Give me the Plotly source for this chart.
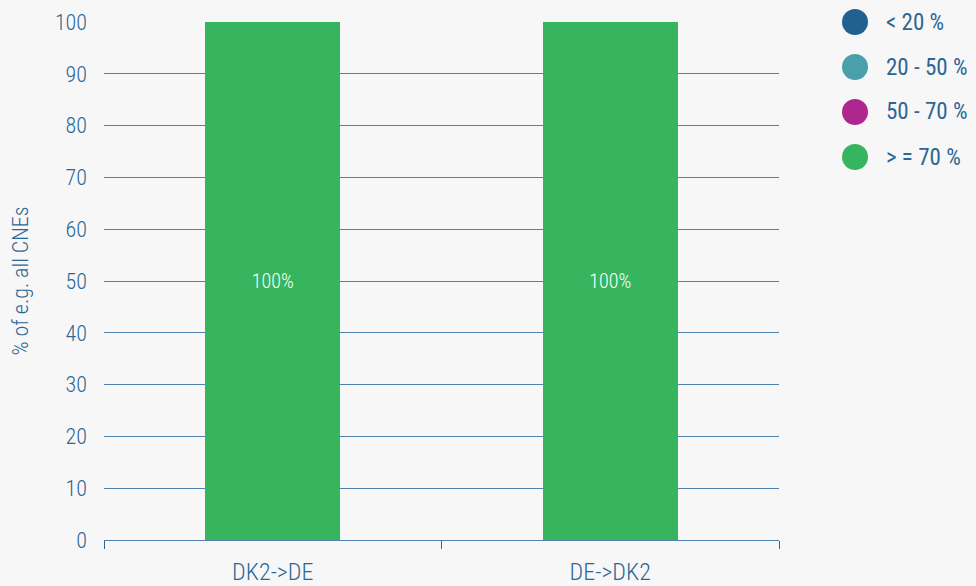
import plotly.graph_objects as go

categories = ["DK2->DE", "DE->DK2"]
series_names = ["< 20 %", "20 - 50 %", "50 - 70 %", "> = 70 %"]
series_values = [
    [0, 0],
    [0, 0],
    [0, 0],
    [100, 100],
]
series_colors = ["#22608f", "#4aa0aa", "#b0268f", "#36b55e"]
y_ticks = list(range(0, 101, 10))

FONT = "Roboto Condensed, Liberation Sans Narrow, Roboto, sans-serif"
TXT = "#2d6695"
GRID = "#4f82ae"

T, B = 22, 46
PH = 586 - T - B
PW = 976 - 104 - 197

fig = go.Figure()
for name, vals, col in zip(series_names, series_values, series_colors):
    fig.add_trace(go.Bar(
        x=categories, y=vals, name=name, marker_color=col,
        marker_line_width=0, showlegend=False,
        text=[f"{v}%" if v > 0 else "" for v in vals],
        textposition="inside", insidetextanchor="middle",
        textfont=dict(color="white", size=20, family=FONT, weight=300),
        width=0.4,
    ))

# custom legend with large circles
for i, (name, col) in enumerate(zip(series_names, series_colors)):
    yc = 22 + i * 45
    ypix = 586 - B - yc
    fig.add_shape(type="circle", xref="paper", yref="paper",
                  x0=(842 - 104) / PW, x1=(868 - 104) / PW,
                  y0=(ypix - 13) / PH, y1=(ypix + 13) / PH,
                  fillcolor=col, line_width=0)
    fig.add_annotation(xref="paper", yref="paper", x=(884 - 104) / PW,
                       y=ypix / PH, text=name, showarrow=False,
                       xanchor="left", yanchor="middle",
                       font=dict(size=23, color=TXT, family=FONT))

fig.update_layout(
    barmode="stack",
    width=976, height=586,
    margin=dict(l=104, r=197, t=T, b=B, autoexpand=False),
    paper_bgcolor="#f7f7f7", plot_bgcolor="#f7f7f7",
    font=dict(family=FONT, color=TXT, size=20),
    bargap=0.6,
)
fig.update_yaxes(
    range=[0, 100], tickvals=y_ticks, showgrid=True, gridcolor=GRID,
    gridwidth=1, zeroline=False, showline=False, ticks="",
    ticklabelstandoff=16, automargin=False,
    title=dict(text="% of e.g. all CNEs", font=dict(size=22, color=TXT, weight=300), standoff=20),
    tickfont=dict(size=22, color=TXT, weight=300),
)
fig.update_xaxes(
    showline=True, linecolor=GRID, linewidth=1, ticks="outside",
    tickson="boundaries", ticklen=8, tickcolor="#2d6695",
    ticklabelstandoff=10, automargin=False,
    tickfont=dict(size=24, color=TXT, weight=300),
)
fig.write_html("out.html", config={"displayModeBar": False},
               post_script="document.body.style.margin='0';document.body.style.padding='0';")
